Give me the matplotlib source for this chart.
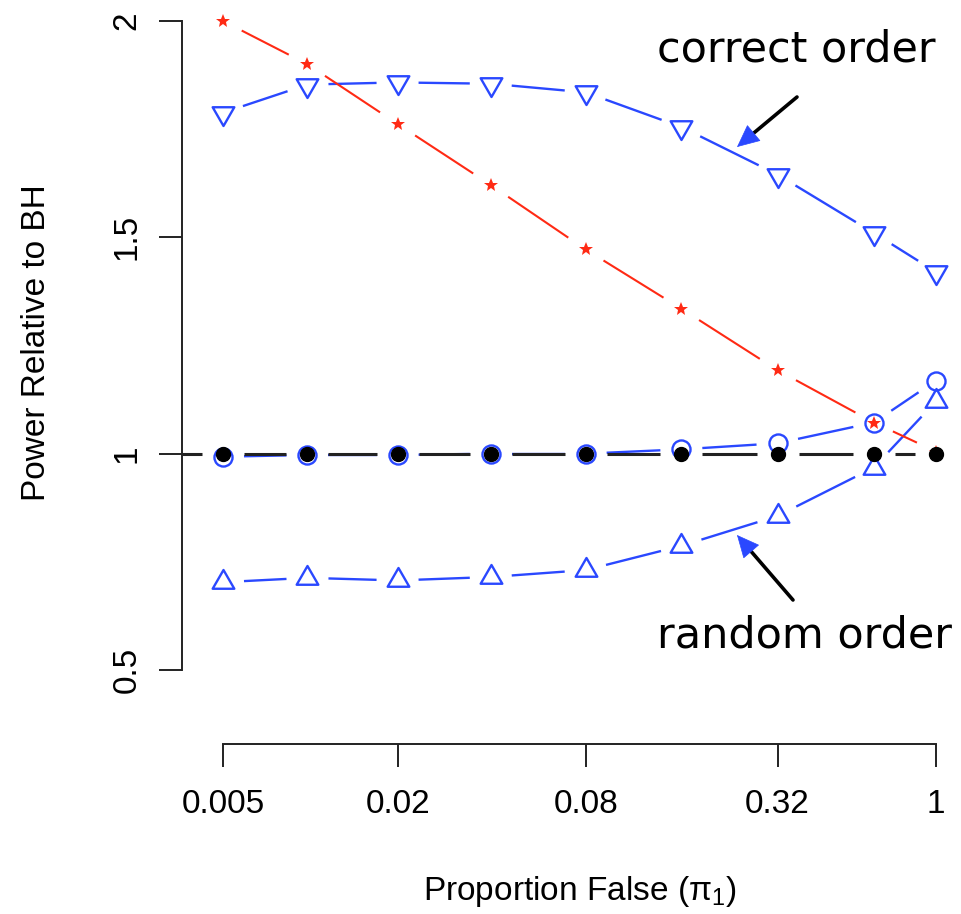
import numpy as np
import matplotlib.pyplot as plt
from matplotlib.path import Path

# data
pi1 = [0.005, 0.01, 0.02, 0.04, 0.08, 0.16, 0.32, 0.64, 1]
bh = [1, 1, 1, 1, 1, 1, 1, 1, 1]
stars = [2.0, 1.900, 1.762, 1.621, 1.472, 1.335, 1.193, 1.072, 1.005]
correct_order = [1.788, 1.853, 1.858, 1.855, 1.835, 1.755, 1.645, 1.510, 1.420]
random_order = [0.703, 0.713, 0.707, 0.715, 0.731, 0.787, 0.856, 0.968, 1.121]
circles = [0.993, 0.997, 0.997, 1.0, 1.0, 1.010, 1.024, 1.072, 1.169]
x_ticks = [0.005, 0.02, 0.08, 0.32, 1]
x_ticklabels = ['0.005', '0.02', '0.08', '0.32', '1']
y_ticks = [0.5, 1, 1.5, 2]
y_ticklabels = ['0.5', '1', '1.5', '2']

plt.rcParams['font.family'] = ['Liberation Sans', 'DejaVu Sans']
plt.rcParams['mathtext.fontset'] = 'custom'
plt.rcParams['mathtext.rm'] = 'Liberation Sans'

BLUE = '#2a48ff'
RED = '#ff2a14'
BLACK = '#222222'

W, H = 961, 914
fig = plt.figure(figsize=(W / 100, H / 100), dpi=100)
ax = fig.add_axes([182 / W, (H - 744) / H, 1 - 182 / W, 744 / H])

ax.set_xscale('function', functions=(lambda x: np.log(np.asarray(x) + 0.001),
                                     lambda y: np.exp(y) - 0.001))
ax.set_xlim(0.00347, 1.197)
ax.set_ylim(0.329, 2.0485)

for s in ['top', 'right']:
    ax.spines[s].set_visible(False)
ax.spines['left'].set_bounds(0.5, 2)
ax.spines['bottom'].set_bounds(0.005, 1)
for s in ['left', 'bottom']:
    ax.spines[s].set_linewidth(1.4)
    ax.spines[s].set_color('#222222')

ax.set_xticks(x_ticks)
ax.set_xticklabels(x_ticklabels)
ax.xaxis.set_minor_locator(plt.NullLocator())
ax.set_yticks(y_ticks)
ax.set_yticklabels(y_ticklabels, rotation=90, va='center')
ax.tick_params(axis='both', length=16.5, width=1.4, color='#222222', labelsize=24)
ax.tick_params(axis='x', pad=16)
ax.tick_params(axis='y', pad=12)


def gapped(xs, ys, color, gap=21, lw=1.7):
    # R type="b": segments that stop short of each point
    pts = ax.transData.transform(np.column_stack([xs, ys]))
    inv = ax.transData.inverted()
    for p, q in zip(pts[:-1], pts[1:]):
        d = q - p
        L = np.hypot(*d)
        if L <= 2 * gap:
            continue
        u = d / L
        a = inv.transform(p + u * gap)
        b = inv.transform(q - u * gap)
        ax.plot([a[0], b[0]], [a[1], b[1]], color=color, lw=lw,
                solid_capstyle='butt', clip_on=False)


tri_up = Path([(0, 1), (-0.866, -0.5), (0.866, -0.5), (0, 1)], closed=True)
tri_down = Path([(0, -1), (-0.866, 0.5), (0.866, 0.5), (0, -1)], closed=True)

# blue series
gapped(pi1, correct_order, BLUE)
ax.plot(pi1, correct_order, ls='none', marker=tri_down, ms=18, mfc='none',
        mec=BLUE, mew=1.7, clip_on=False)
gapped(pi1, random_order, BLUE)
ax.plot(pi1, random_order, ls='none', marker=tri_up, ms=18, mfc='none',
        mec=BLUE, mew=1.7, clip_on=False)
gapped(pi1, circles, BLUE)
ax.plot(pi1, circles, ls='none', marker='o', ms=13, mfc='none',
        mec=BLUE, mew=1.7, clip_on=False)

# red stars
gapped(pi1, stars, RED, lw=1.5)
ax.plot(pi1, stars, ls='none', marker='*', ms=10, color=RED, mew=0,
        clip_on=False)

# BH reference
gapped(pi1, bh, BLACK, lw=2.2)
p0 = ax.transData.transform((pi1[0], bh[0]))
x_end = ax.transData.inverted().transform(p0 - np.array([21, 0]))[0]
ax.plot([ax.get_xlim()[0], x_end], [bh[0], bh[0]], color=BLACK, lw=2.2,
        solid_capstyle='butt')
ax.plot(pi1, bh, ls='none', marker='o', ms=10, color='black', clip_on=False)

# annotations
for txt, xy_text, tip, start in [('correct order', (657, H - 62), (737, H - 147), (797, H - 97)),
                                 ('random order', (657, H - 648), (737, H - 535), (793, H - 600))]:
    fig.text(xy_text[0] / W, xy_text[1] / H, txt, fontsize=31,
             family='DejaVu Sans', ha='left', va='baseline')
    ax.annotate('', xy=tip, xycoords='figure pixels', xytext=start,
                textcoords='figure pixels',
                arrowprops=dict(arrowstyle='-', color='black', lw=2.6,
                                shrinkA=0, shrinkB=8))
    d = np.array(start, float) - np.array(tip, float)
    d = d / np.hypot(*d)
    base = np.array(tip, float) + d * 16
    ax.annotate('', xy=tip, xycoords='figure pixels', xytext=tuple(base),
                textcoords='figure pixels',
                arrowprops=dict(arrowstyle='-|>,head_length=0.75,head_width=0.35',
                                color=BLUE, lw=0.5, shrinkA=0, shrinkB=0,
                                mutation_scale=20))

fig.text(37 / W, 1 - 343 / H, 'Power Relative to BH', rotation=90,
         ha='center', va='center', fontsize=24)
fig.text(580 / W, 14 / H, 'Proportion False (π$_1$)', ha='center',
         va='baseline', fontsize=24)

fig.savefig('out.png', dpi=100)
